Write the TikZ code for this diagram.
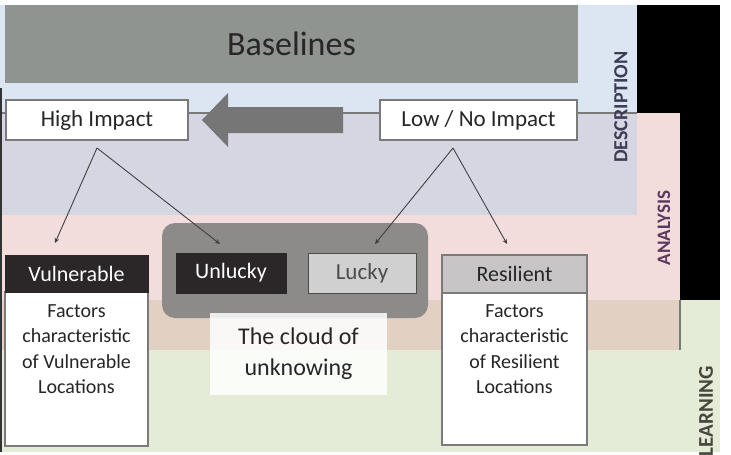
\documentclass[tikz,border=0pt]{standalone}
\usepackage{fontspec}
\setmainfont{Carlito}
\usetikzlibrary{arrows.meta}
\definecolor{descblue}{HTML}{DCE6F2}
\definecolor{overlav}{HTML}{D6D6E3}
\definecolor{anapink}{HTML}{F2DCDC}
\definecolor{overtan}{HTML}{E2D1C3}
\definecolor{learngreen}{HTML}{E4EBD6}
\definecolor{basegrey}{HTML}{8F9491}
\definecolor{arrowgrey}{HTML}{767676}
\definecolor{cloudgrey}{HTML}{8D8A8A}
\definecolor{darkhead}{HTML}{2B2627}
\definecolor{luckyfill}{HTML}{D0D0D0}
\definecolor{resfill}{HTML}{C7C5C5}
\definecolor{edgegrey}{HTML}{7A7A7A}
\definecolor{txt}{HTML}{262626}
\definecolor{descc}{HTML}{3B3D55}
\definecolor{anac}{HTML}{5B3A5E}
\definecolor{learnc}{HTML}{45463D}
\begin{document}
\begin{tikzpicture}[x=1pt,y=-1pt,
  box/.style={draw=edgegrey, line width=1.2pt, fill=white, inner sep=0pt, text=txt,
    font=\fontsize{23}{26}\selectfont},
  darkbox/.style={draw=darkhead, line width=1pt, fill=darkhead, inner sep=0pt, text=white,
    font=\fontsize{22}{26}\selectfont},
  bodybox/.style={draw=edgegrey, line width=1.2pt, fill=white, inner sep=0pt},
  bodytext/.style={inner sep=0pt, anchor=north, align=center, text=txt,
    font=\fontsize{20}{25.5}\selectfont},
  sidelabel/.style={inner sep=0pt, rotate=90, font=\fontsize{19}{22}\selectfont\bfseries},
  conn/.style={draw=black!75, line width=0.9pt, -{Stealth[length=5pt,width=4.5pt]}},
  edge/.style={draw=edgegrey, line width=1.2pt}
]
\useasboundingbox (0,0) rectangle (731,455);
% background regions
\fill[black] (637,5) rectangle (720,300);
\fill[descblue] (0,5) rectangle (637,215);
\fill[anapink] (0,113) rectangle (680,350);
\fill[overlav] (0,113) rectangle (637,215);
\fill[learngreen] (0,300) rectangle (720,452);
\fill[overtan] (0,300) rectangle (680,350);
\draw[edge] (0,113) -- (637,113);
\draw[edge] (680,300) -- (680,350);
\draw[draw=black!80, line width=1.5pt] (1,88) -- (1,452);
% side labels
\node[sidelabel, text=descc, font=\fontsize{20}{22}\selectfont\bfseries] (desc) at (621,107) {DESCRIPTION};
\node[sidelabel, text=anac] (ana) at (664,228) {ANALYSIS};
\node[sidelabel, text=learnc, font=\fontsize{21}{24}\selectfont\bfseries] (learn) at (706,411) {LEARNING};
% baselines
\node[fill=basegrey, minimum width=573pt, minimum height=78pt, inner sep=0pt, text=txt,
  font=\fontsize{34}{40}\selectfont] (base) at (291.5,44) {Baselines};
% big arrow
\fill[arrowgrey] (202,120) -- (228,93) -- (228,107) -- (343,107) -- (343,133) -- (228,133) -- (228,147) -- cycle;
% impact boxes
\node[box, minimum width=182pt, minimum height=40pt] (hi) at (97,120) {High Impact};
\node[box, minimum width=197pt, minimum height=40pt] (lo) at (478.5,120) {Low / No Impact};
% cloud
\node[fill=cloudgrey, rounded corners=13pt, minimum width=266pt, minimum height=95pt, inner sep=0pt] (cloud) at (295,270.5) {};
\node[darkbox, minimum width=110pt, minimum height=40pt] (unl) at (231,273) {Unlucky};
\node[draw=black!70, line width=1pt, fill=luckyfill, minimum width=108pt, minimum height=40pt, inner sep=0pt,
  text=black!70, font=\fontsize{23}{26}\selectfont] (luc) at (362,273) {Lucky};
\node[fill=white, fill opacity=0.85, text opacity=1, minimum width=177pt, minimum height=82pt, inner sep=0pt,
  align=center, text=txt, font=\fontsize{24}{31}\selectfont] (ctext) at (298.5,354) {The cloud of\\unknowing};
% vulnerable
\node[bodybox, minimum width=143pt, minimum height=154pt] (vulb) at (76.5,369) {};
\node[darkbox, minimum width=143pt, minimum height=37pt] (vulh) at (76.5,273.5) {Vulnerable};
\node[bodytext] (vult) at (76.5,304) {Factors\\characteristic\\of Vulnerable\\Locations};
% resilient
\node[bodybox, minimum width=145pt, minimum height=152pt] (resb) at (514.5,369) {};
\node[box, fill=resfill, minimum width=145pt, minimum height=38pt, font=\fontsize{22}{26}\selectfont] (resh) at (514.5,274) {Resilient};
\node[bodytext] (rest) at (514.5,304) {Factors\\characteristic\\of Resilient\\Locations};
% connectors
\coordinate (hiA) at (97,148);
\coordinate (loA) at (453,148);
\coordinate (vulT) at (55,243);
\coordinate (unlT) at (220,244);
\coordinate (lucT) at (375,244);
\coordinate (resT) at (507,244);
\draw[conn] (hiA) -- (vulT);
\draw[conn] (hiA) -- (unlT);
\draw[conn] (loA) -- (lucT);
\draw[conn] (loA) -- (resT);
\end{tikzpicture}
\end{document}
